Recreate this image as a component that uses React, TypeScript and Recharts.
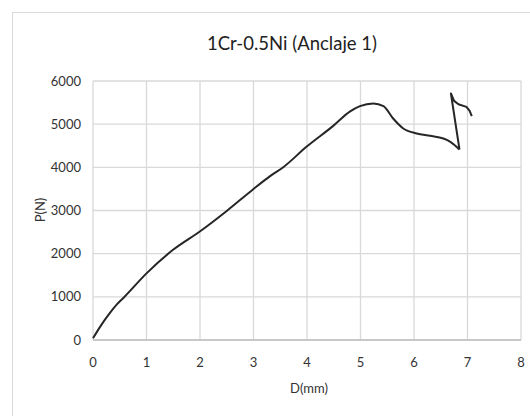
import { LineChart, Line, XAxis, YAxis, CartesianGrid } from "recharts";

// loading branch: displacement (mm) rises steadily, load (N)
const D_LOAD = [
  0, 0.15, 0.31, 0.45, 0.59, 1.0, 1.49, 1.99, 2.5, 2.99, 3.31, 3.55, 3.99, 4.49, 4.8,
  4.99, 5.24, 5.43, 5.61, 5.8, 6.05, 6.3, 6.55, 6.68, 6.85,
];
const P_LOAD = [
  40, 340, 617, 830, 1003, 1543, 2083, 2508, 2990, 3488, 3796, 3997, 4475, 4960, 5290,
  5417, 5479, 5417, 5131, 4900, 4784, 4730, 4668, 4591, 4414,
];
// snap-back branch: displacement goes backwards before rising again
const D_SNAP = [6.85, 6.69, 6.75, 6.83, 6.98, 7.04, 7.08];
const P_SNAP = [4414, 5711, 5539, 5463, 5401, 5308, 5185];

const X_TICKS = [0, 1, 2, 3, 4, 5, 6, 7, 8];
const Y_TICKS = [0, 1000, 2000, 3000, 4000, 5000, 6000];

const TITLE = "1Cr-0.5Ni (Anclaje 1)";
const X_LABEL = "D(mm)";
const Y_LABEL = "P(N)";

const loadData = D_LOAD.map((d, i) => ({ d, p: P_LOAD[i] }));
const snapData = D_SNAP.map((d, i) => ({ d, p: P_SNAP[i] }));

const FONT = "Lato, 'Open Sans', sans-serif";
const tickStyle = { fill: "#333", fontSize: 13, fontFamily: FONT };

export default function App() {
  return (
    <div style={{ position: "absolute", left: 0, top: 0, width: 530, height: 416, overflow: "hidden", background: "#fff" }}>
      {/* chart frame, runs off the right and bottom edges */}
      <div style={{
        position: "absolute", left: 12, top: 12, width: 600, height: 500,
        border: "1px solid #d9d9d9",
      }} />

      <div style={{
        position: "absolute", left: 0, width: 584, top: 32, textAlign: "center",
        fontFamily: FONT, fontSize: 18.5, color: "#222",
      }}>
        {TITLE}
      </div>

      <div style={{ position: "absolute", left: 0, top: 0 }}>
        <LineChart width={530} height={416} margin={{ top: 81, right: 9, bottom: 46, left: 0 }}>
          <CartesianGrid stroke="#d9d9d9" strokeWidth={1.3} horizontalValues={Y_TICKS} verticalValues={X_TICKS} />
          <XAxis
            type="number"
            dataKey="d"
            domain={[0, 8]}
            ticks={X_TICKS}
            interval={0}
            allowDuplicatedCategory={false}
            tickLine={false}
            tickSize={6}
            tickMargin={12}
            axisLine={{ stroke: "#bfbfbf", strokeWidth: 1.3 }}
            tick={tickStyle}
          />
          <YAxis
            type="number"
            dataKey="p"
            domain={[0, 6000]}
            ticks={Y_TICKS}
            interval={0}
            width={93}
            tickLine={false}
            tickSize={6}
            tickMargin={6}
            axisLine={false}
            tick={tickStyle}
          />
          <Line
            data={loadData}
            type="monotone"
            dataKey="p"
            stroke="#262626"
            strokeWidth={2}
            dot={false}
            isAnimationActive={false}
          />
          <Line
            data={snapData}
            type="linear"
            dataKey="p"
            stroke="#262626"
            strokeWidth={2}
            strokeLinejoin="round"
            dot={false}
            isAnimationActive={false}
          />
        </LineChart>
      </div>

      <div style={{
        position: "absolute", left: 309, top: 388, transform: "translate(-50%, -50%)",
        fontFamily: FONT, fontSize: 13, color: "#333", whiteSpace: "nowrap",
      }}>
        {X_LABEL}
      </div>
      <div style={{
        position: "absolute", left: 40, top: 210, transform: "translate(-50%, -50%) rotate(-90deg)",
        fontFamily: FONT, fontSize: 13, color: "#333", whiteSpace: "nowrap",
      }}>
        {Y_LABEL}
      </div>
    </div>
  );
}
